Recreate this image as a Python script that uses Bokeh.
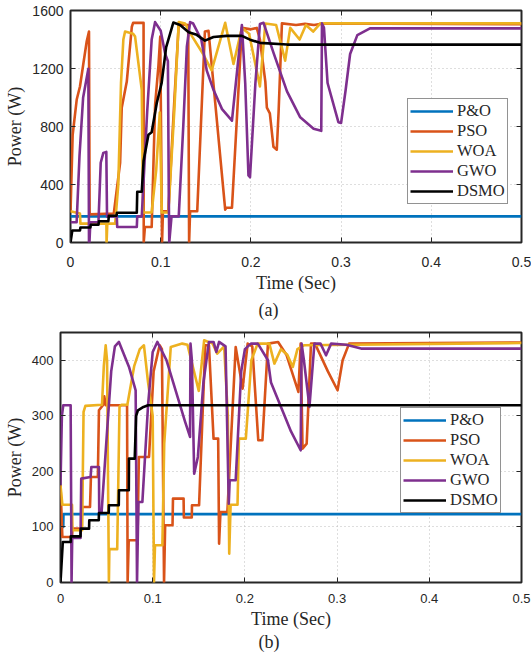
from bokeh.plotting import figure
from bokeh.layouts import column, row
from bokeh.models import Range1d, FixedTicker, LinearAxis, Title
from bokeh.embed import file_html
from bokeh.resources import INLINE

# ---------------- data: subplot (a) ----------------
x_ticks = [0, 0.1, 0.2, 0.3, 0.4, 0.5]
y_ticks_a = [0, 400, 800, 1200, 1600]
y_ticks_b = [0, 100, 200, 300, 400]
series_names = ["P&O", "PSO", "WOA", "GWO", "DSMO"]

t_po_a = [0, 0.5]
p_po_a = [180, 180]

t_pso_a = [0, 0.0024, 0.0069, 0.0105, 0.0142, 0.018, 0.0205, 0.0212, 0.048, 0.055, 0.0568, 0.0624, 0.068, 0.0694,
           0.081, 0.0812, 0.0825, 0.09, 0.0938, 0.0975, 0.0995, 0.1015, 0.1025, 0.1085, 0.1153, 0.12, 0.1305, 0.1315,
           0.1326, 0.1405, 0.149, 0.153, 0.1715, 0.173, 0.179, 0.19, 0.2, 0.2065, 0.21, 0.216, 0.2177, 0.221, 0.225,
           0.2287, 0.2307, 0.2344, 0.25, 0.26, 0.27, 0.28, 0.5]
p_pso_a = [207, 743, 986, 1076, 1231, 1388, 1455, 194, 200, 549, 930, 1110, 1488, 1515,
           1515, 0, 107, 107, 950, 1220, 1420, 0, 216, 216, 1000, 1505, 1500, 0,
           216, 216, 1455, 1460, 227, 240, 240, 1480, 1470, 1480, 1400, 1109, 930, 890, 660,
           640, 900, 1511, 1500, 1508, 1500, 1510, 1506]

t_woa_a = [0, 0.0105, 0.011, 0.0398, 0.04, 0.0408, 0.0495, 0.053, 0.056, 0.0586, 0.0605, 0.0694, 0.0716, 0.079,
           0.0805, 0.09, 0.095, 0.099, 0.1012, 0.1085, 0.115, 0.12, 0.127, 0.135, 0.147, 0.1565, 0.1715, 0.1807,
           0.19, 0.198, 0.21, 0.216, 0.228, 0.238, 0.2436, 0.254, 0.261, 0.269, 0.277, 0.5]
p_woa_a = [215, 200, 130, 130, 0, 130, 130, 400, 1100, 1400, 1455, 1440, 1420, 1053,
           207, 207, 500, 897, 207, 207, 900, 1520, 1510, 1420, 1300, 1187, 1515, 1231,
           1480, 1440, 1076, 1510, 1500, 1254, 1480, 1400, 1500, 1455, 1511, 1511]

t_gwo_a = [0, 0.0068, 0.01, 0.014, 0.0198, 0.0205, 0.021, 0.022, 0.031, 0.0335, 0.0364, 0.0397, 0.0405, 0.0513,
           0.0518, 0.0735, 0.074, 0.079, 0.085, 0.09, 0.0938, 0.1, 0.105, 0.108, 0.109, 0.1095, 0.112, 0.12, 0.125,
           0.129, 0.1326, 0.136, 0.145, 0.151, 0.1585, 0.168, 0.179, 0.185, 0.19, 0.1937, 0.1973, 0.199, 0.205,
           0.21, 0.214, 0.225, 0.24, 0.2547, 0.2695, 0.278, 0.2788, 0.281, 0.285, 0.297, 0.3, 0.305, 0.31, 0.318,
           0.332, 0.5]
p_gwo_a = [140, 140, 600, 1000, 1198, 0, 0, 140, 140, 550, 618, 625, 180, 180,
           107, 107, 180, 180, 900, 1400, 1520, 1460, 1300, 1250, 300, 0, 180, 180, 800,
           1350, 1520, 1510, 1400, 1187, 1053, 920, 840, 1200, 1500, 1100, 462, 450, 1100,
           1507, 1515, 1310, 1042, 863, 785, 770, 1511, 1480, 1100, 830, 825, 1050, 1300, 1430,
           1477, 1477]

t_dsmo_a = [0, 0.002, 0.0105, 0.011, 0.022, 0.0225, 0.031, 0.0315, 0.042, 0.0425, 0.051, 0.0515, 0.0735, 0.074,
            0.079, 0.081, 0.0864, 0.090, 0.0957, 0.101, 0.106, 0.114, 0.1215, 0.131, 0.140, 0.149, 0.1585, 0.173,
            0.19, 0.199, 0.21, 0.24, 0.5]
p_dsmo_a = [0, 83, 83, 103, 103, 122, 122, 147, 147, 185, 185, 205, 205, 350,
            350, 562, 743, 760, 964, 1098, 1345, 1517, 1500, 1450, 1432, 1392, 1417, 1425,
            1425, 1399, 1377, 1365, 1365]

# ---------------- data: subplot (b) ----------------
t_po_b = [0, 0.003, 0.0032, 0.5]
p_po_b = [100, 100, 123, 123]

t_pso_b = [0, 0.002, 0.0125, 0.013, 0.0225, 0.0235, 0.032, 0.033, 0.0405, 0.0417, 0.046, 0.0475, 0.049, 0.0722,
           0.0728, 0.074, 0.0835, 0.085, 0.096, 0.101, 0.1075, 0.110, 0.1123, 0.1135, 0.1215, 0.122, 0.1335, 0.1338,
           0.1424, 0.1426, 0.1503, 0.157, 0.161, 0.166, 0.171, 0.172, 0.1735, 0.181, 0.19, 0.1975, 0.203, 0.208,
           0.2145, 0.219, 0.225, 0.236, 0.245, 0.258, 0.2605, 0.2625, 0.267, 0.2717, 0.276, 0.29, 0.3005, 0.306,
           0.313, 0.5]
p_pso_b = [175, 82, 82, 97, 97, 136, 136, 190, 190, 310, 319, 335, 319, 319,
           0, 76, 76, 226, 226, 380, 427, 420, 0, 103, 103, 151, 151, 117,
           117, 139, 139, 427, 427, 259, 259, 70, 127, 127, 424, 349, 430, 425,
           256, 256, 430, 433, 410, 343, 430, 241, 250, 430, 430, 380, 346, 400,
           430, 432]

t_woa_b = [0, 0.002, 0.0125, 0.013, 0.0235, 0.025, 0.027, 0.045, 0.047, 0.049, 0.0505, 0.0525, 0.053, 0.0615,
           0.064, 0.066, 0.0725, 0.08, 0.086, 0.0905, 0.095, 0.1, 0.1014, 0.1025, 0.1105, 0.1125, 0.1196, 0.132,
           0.1377, 0.150, 0.1558, 0.165, 0.170, 0.1775, 0.1815, 0.183, 0.1845, 0.192, 0.1935, 0.201, 0.207, 0.2138,
           0.2265, 0.232, 0.239, 0.246, 0.252, 0.257, 0.264, 0.5]
p_woa_b = [175, 140, 140, 94, 94, 307, 318, 320, 390, 427, 400, 0, 60, 60,
           316, 320, 320, 390, 420, 427, 360, 300, 0, 67, 67, 250, 424, 430,
           428, 345, 436, 430, 412, 425, 300, 52, 140, 140, 259, 259, 400, 430,
           430, 394, 420, 410, 388, 420, 427, 431]

t_gwo_b = [0, 0.0015, 0.003, 0.011, 0.012, 0.0127, 0.0217, 0.0225, 0.0326, 0.0335, 0.0417, 0.042, 0.0445, 0.05,
           0.055, 0.059, 0.0634, 0.0743, 0.0815, 0.083, 0.0845, 0.0888, 0.095, 0.1, 0.105, 0.115, 0.125, 0.135,
           0.1405, 0.141, 0.1425, 0.145, 0.149, 0.155, 0.161, 0.166, 0.169, 0.172, 0.179, 0.1825, 0.1835, 0.19,
           0.196, 0.2, 0.2065, 0.214, 0.225, 0.2283, 0.25, 0.2605, 0.2615, 0.264, 0.27, 0.2754, 0.282, 0.288,
           0.2935, 0.31, 0.326, 0.5]
p_gwo_b = [175, 300, 319, 319, 0, 80, 80, 187, 190, 208, 208, 125, 125, 260,
           380, 425, 433, 388, 346, 0, 145, 145, 320, 415, 433, 400, 345, 290,
           262, 430, 400, 196, 226, 360, 433, 433, 415, 433, 425, 142, 184, 184,
           380, 420, 430, 430, 400, 360, 272, 238, 430, 400, 316, 430, 430, 409,
           430, 428, 421, 421]

t_dsmo_b = [0, 0.0025, 0.011, 0.0112, 0.0217, 0.0219, 0.031, 0.0312, 0.0415, 0.0417, 0.0523, 0.0525, 0.0632,
            0.0634, 0.0741, 0.0743, 0.0805, 0.082, 0.084, 0.09, 0.095, 0.5]
p_dsmo_b = [0, 73, 73, 83, 83, 97, 97, 112, 112, 125, 125, 139, 139,
            166, 166, 223, 223, 300, 310, 316, 319, 319]

colors = ["#0072BD", "#D95319", "#EDB120", "#7E2F8E", "#000000"]
AX = "#262626"
SERIF = "Liberation Serif"
SANS = "Liberation Sans"


def make_fig(height, y_max, y_ticks, series, borders, tick_size, caption, caption_offset,
             caption_standoff, legend_loc, label_standoff):
    bl, br, bt, bb = borders
    p = figure(width=531, height=height, output_backend="svg", toolbar_location=None,
               x_range=Range1d(0, 0.5), y_range=Range1d(0, y_max),
               min_border_left=bl, min_border_right=br, min_border_top=bt, min_border_bottom=bb)
    p.background_fill_color = "white"
    p.border_fill_color = "white"
    p.outline_line_color = AX
    p.outline_line_width = 2

    for (t, pw), name, c in zip(series, series_names, colors):
        p.line(t, pw, line_color=c, line_width=2.6, legend_label=name, line_join="round")

    xt = FixedTicker(ticks=x_ticks)
    yt = FixedTicker(ticks=y_ticks)
    p.xaxis.ticker = xt
    p.yaxis.ticker = yt
    p.xgrid.ticker = xt
    p.ygrid.ticker = yt
    for g in (p.xgrid, p.ygrid):
        g.grid_line_color = "#bdbdbd"
        g.grid_line_dash = "1 3"
        g.grid_line_width = 1

    for ax in (p.xaxis, p.yaxis):
        ax.axis_line_color = None
        ax.major_tick_in = 5
        ax.major_tick_out = 0
        ax.minor_tick_line_color = None
        ax.major_tick_line_color = AX
        ax.major_label_text_font = SANS
        ax.major_label_text_font_size = tick_size
        ax.major_label_text_color = AX
        ax.axis_label_text_font = SERIF
        ax.axis_label_text_font_size = "18px"
        ax.axis_label_text_font_style = "normal"
        ax.axis_label_text_color = AX
    p.xaxis.axis_label = "Time (Sec)"
    p.yaxis.axis_label = "Power (W)"
    p.xaxis.major_label_standoff = label_standoff
    p.xaxis.axis_label_standoff = 3
    p.yaxis.major_label_standoff = 7
    p.yaxis.axis_label_standoff = 4

    top = LinearAxis(ticker=xt, major_tick_in=5, major_tick_out=0, axis_line_color=None,
                     minor_tick_line_color=None, major_label_text_font_size="0px",
                     major_label_text_color=None,
                     major_label_standoff=0, major_tick_line_color=AX)
    right = LinearAxis(ticker=yt, major_tick_in=5, major_tick_out=0, axis_line_color=None,
                       minor_tick_line_color=None, major_label_text_font_size="0px",
                       major_label_text_color=None,
                       major_label_standoff=0, major_tick_line_color=AX)
    p.add_layout(top, "above")
    p.add_layout(right, "right")

    p.add_layout(Title(text=caption, align="left", offset=caption_offset, text_font=SERIF,
                       text_font_size="18px", text_font_style="normal", text_color=AX,
                       standoff=caption_standoff), "below")

    lg = p.legend[0]
    lg.location = legend_loc
    lg.border_line_color = AX
    lg.border_line_width = 1
    lg.background_fill_color = "white"
    lg.background_fill_alpha = 1
    lg.label_text_font = SERIF
    lg.label_text_font_size = "16.5px"
    lg.label_text_color = AX
    lg.glyph_width = 43
    lg.glyph_height = 18
    lg.label_height = 18
    lg.label_standoff = 4
    lg.padding = 2
    lg.spacing = 0
    lg.margin = 0
    return p


series_a = [(t_po_a, p_po_a), (t_pso_a, p_pso_a), (t_woa_a, p_woa_a), (t_gwo_a, p_gwo_a), (t_dsmo_a, p_dsmo_a)]
series_b = [(t_po_b, p_po_b), (t_pso_b, p_pso_b), (t_woa_b, p_woa_b), (t_gwo_b, p_gwo_b), (t_dsmo_b, p_dsmo_b)]

p1 = make_fig(322, 1600, y_ticks_a, series_a, (70, 10, 10, 73), "14px", "(a)", 188, 5, (337, 38), 14)
p2 = make_fig(332, 450, y_ticks_b, series_b, (60, 10, 10, 72), "13px", "(b)", 198, -3, (340, 69), 11)

layout = column(row(p1), row(p2))
open("out.html", "w").write(file_html(layout, INLINE))
